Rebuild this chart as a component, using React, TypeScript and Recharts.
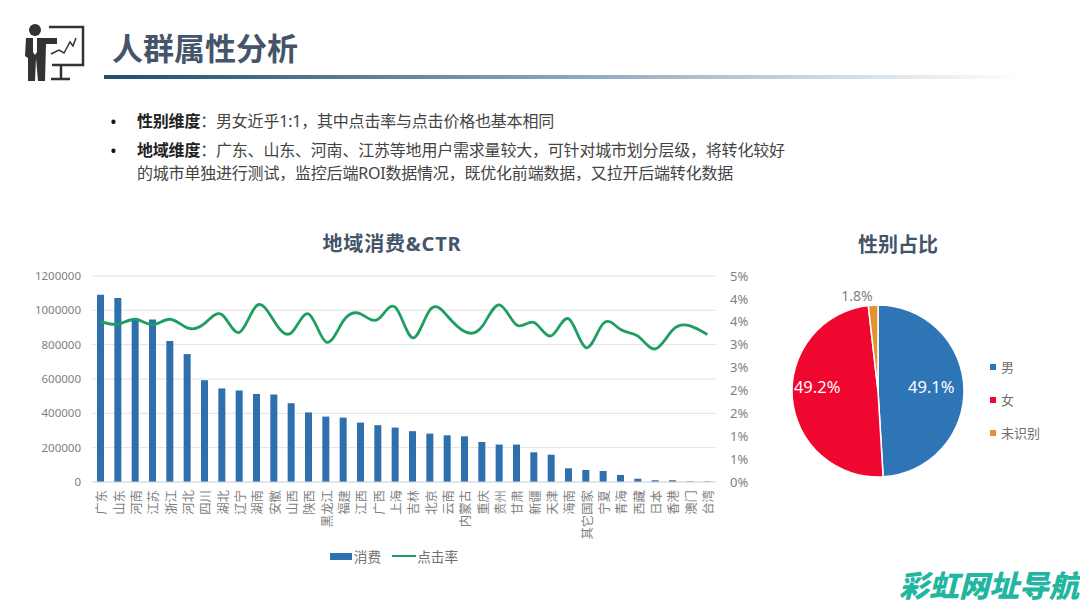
import React from 'react';
import { Bar, CartesianGrid, Cell, ComposedChart, Legend, Line, Pie, PieChart, XAxis, YAxis } from 'recharts';

const regions = ['广东', '山东', '河南', '江苏', '浙江', '河北', '四川', '湖北', '辽宁', '湖南', '安徽', '山西', '陕西', '黑龙江', '福建', '江西', '广西', '上海', '吉林', '北京', '云南', '内蒙古', '重庆', '贵州', '甘肃', '新疆', '天津', '海南', '其它国家', '宁夏', '青海', '西藏', '日本', '香港', '澳门', '台湾'];
const spend = [1091000, 1072000, 947000, 947000, 821000, 745000, 593000, 545000, 533000, 513000, 510000, 459000, 405000, 381000, 375000, 346000, 331000, 317000, 296000, 282000, 272000, 266000, 233000, 218000, 218000, 173000, 159000, 80000, 70000, 64000, 41000, 19000, 10000, 10000, 3000, 3000];
const ctr = [3.9, 3.83, 3.95, 3.82, 3.95, 3.74, 3.85, 4.06, 3.63, 4.28, 3.91, 3.62, 4.08, 3.4, 3.91, 4.08, 3.95, 4.24, 3.5, 4.18, 4.03, 3.65, 3.77, 4.3, 3.81, 3.87, 3.55, 3.96, 3.26, 3.85, 3.7, 3.54, 3.23, 3.69, 3.79, 3.58];
const spendTicks = [0, 200000, 400000, 600000, 800000, 1000000, 1200000];
const ctrTicks = [0, 0.556, 1.111, 1.667, 2.222, 2.778, 3.333, 3.889, 4.444, 5];

const genders = ['男', '女', '未识别'];
const genderShare = [49.1, 49.2, 1.8];
const genderColors = ['#2e75b6', '#f0072f', '#e5912c'];

const FONT = '"Noto Sans", "Noto Sans CJK SC", sans-serif';
const TITLE = '#44546a';
const AXIS = '#7f7f7f';

const regionRows = regions.map((name, i) => ({ name, spend: spend[i], ctr: ctr[i] }));
const genderRows = genders.map((name, i) => ({ name, value: genderShare[i] }));

const RegionTick = ({ x, y, payload }: any) => (
  <text
    transform={`translate(${x + 5.5},${y}) rotate(-90)`}
    textAnchor="end"
    fontSize={12.4}
    fontFamily={FONT}
    fill={AXIS}
  >
    {payload.value}
  </text>
);

const RegionLegend = ({ payload }: any) => (
  <div style={{ display: 'flex', justifyContent: 'center', alignItems: 'center', fontFamily: FONT, fontSize: 13.7, color: '#6f6f6f' }}>
    {(payload || []).map((item: any) => (
      <span key={item.value} style={{ display: 'flex', alignItems: 'center', marginRight: 11 }}>
        {item.type === 'rect' ? (
          <span style={{ width: 22, height: 7, background: item.color, marginRight: 2 }} />
        ) : (
          <span style={{ width: 24, height: 2.5, background: item.color, marginRight: 1 }} />
        )}
        {item.value}
      </span>
    ))}
  </div>
);

const GenderLegend = ({ payload }: any) => (
  <div style={{ fontFamily: FONT, fontSize: 13, color: '#6f6f6f' }}>
    {(payload || []).map((item: any) => (
      <div key={item.value} style={{ display: 'flex', alignItems: 'center', height: 33 }}>
        <span style={{ width: 6, height: 6, background: item.color, marginRight: 5 }} />
        {item.value}
      </div>
    ))}
  </div>
);

const RADIAN = Math.PI / 180;
const renderShare = ({ cx, cy, midAngle, outerRadius, value }: any) => {
  const outside = value < 5;
  const r = outside ? outerRadius + 10 : outerRadius * (midAngle > 0 ? 0.62 : 0.71);
  const x = cx + r * Math.cos(midAngle * RADIAN);
  const y = outside ? cy - r : cy - 5;
  return (
    <text
      x={x}
      y={y}
      textAnchor={outside ? 'end' : 'middle'}
      dominantBaseline="central"
      fontSize={outside ? 14 : 16.5}
      fontFamily={FONT}
      fill={outside ? '#7f7f7f' : '#ffffff'}
    >
      {value.toFixed(1)}%
    </text>
  );
};

const PresenterIcon = () => (
  <svg width={90} height={90} style={{ position: 'absolute', left: 2, top: 0 }}>
    <circle cx={33} cy={30} r={6} fill="#333" />
    <path d="M24 38 L55 38 L55 44 L44 44 L43 81 L36 81 L34 58 L33 81 L26 81 L26 58 L23 56 Z" fill="#333" />
    <path d="M31 38 L35 38 L35 52 L33 55 L31 52 Z" fill="#fff" />
    <path d="M47 27 L81 27 L81 65 L50 65 M59 65 L59 78 M49 79 L68 79" fill="none" stroke="#333" strokeWidth={2.5} />
    <path d="M49 54 L57 50 L62 53 L68 42 L71 46 L74 38" fill="none" stroke="#333" strokeWidth={1.5} />
  </svg>
);

const App = () => (
  <div style={{ position: 'absolute', left: 0, top: 0, width: 1080, height: 608, background: '#fff', overflow: 'hidden', fontFamily: FONT }}>
    <PresenterIcon />
    <div style={{ position: 'absolute', left: 112, top: 26, fontSize: 31, lineHeight: '44px', fontWeight: 700, color: TITLE }}>人群属性分析</div>
    <div style={{ position: 'absolute', left: 104, top: 75, width: 920, height: 4, background: 'linear-gradient(90deg, #1f4e6e 0%, #7f9cb5 45%, #ffffff 100%)' }} />

    <div style={{ position: 'absolute', left: 110, top: 109, fontSize: 18, lineHeight: '24px', color: '#111' }}>•</div>
    <div style={{ position: 'absolute', left: 137, top: 110, fontSize: 16, lineHeight: '23px', color: '#444', letterSpacing: -0.2, whiteSpace: 'nowrap' }}>
      <b style={{ color: '#222' }}>性别维度</b>：男女近乎1:1，其中点击率与点击价格也基本相同
    </div>
    <div style={{ position: 'absolute', left: 110, top: 138, fontSize: 18, lineHeight: '24px', color: '#111' }}>•</div>
    <div style={{ position: 'absolute', left: 137, top: 139, fontSize: 16, lineHeight: '23px', color: '#444', letterSpacing: -0.2, whiteSpace: 'nowrap' }}>
      <b style={{ color: '#222' }}>地域维度</b>：广东、山东、河南、江苏等地用户需求量较大，可针对城市划分层级，将转化较好
      <br />
      的城市单独进行测试，监控后端ROI数据情况，既优化前端数据，又拉开后端转化数据
    </div>

    <div style={{ position: 'absolute', left: 292, width: 200, top: 230, textAlign: 'center', fontSize: 20, lineHeight: '28px', fontWeight: 700, color: TITLE, letterSpacing: 0.8 }}>地域消费&amp;CTR</div>
    <div style={{ position: 'absolute', left: 798, width: 200, top: 231, textAlign: 'center', fontSize: 20, lineHeight: '28px', fontWeight: 700, color: TITLE }}>性别占比</div>

    <div style={{ position: 'absolute', left: 20, top: 265 }}>
      <ComposedChart width={740} height={310} data={regionRows} margin={{ top: 11, right: 0, bottom: 0, left: 0 }}>
        <CartesianGrid vertical={false} stroke="#e2e2e2" yAxisId="spend" />
        <XAxis dataKey="name" interval={0} height={63} tick={<RegionTick />} tickLine={false} axisLine={{ stroke: '#d9d9d9' }} tickMargin={2} />
        <YAxis yAxisId="spend" width={72} domain={[0, 1200000]} ticks={spendTicks} interval={0} tickLine={false} axisLine={false} tick={{ fontSize: 11.5, fill: AXIS, fontFamily: FONT }} tickMargin={5} />
        <YAxis yAxisId="ctr" orientation="right" width={44} domain={[0, 5]} ticks={ctrTicks} interval={0} tickFormatter={(v: number) => `${Math.round(v)}%`} tickLine={false} axisLine={false} tick={{ fontSize: 13, fill: AXIS, fontFamily: FONT }} tickMargin={8} />
        <Bar yAxisId="spend" dataKey="spend" name="消费" fill="#2e6fad" barSize={7} legendType="rect" isAnimationActive={false} />
        <Line yAxisId="ctr" dataKey="ctr" name="点击率" type="natural" stroke="#1f9e62" strokeWidth={2.8} dot={false} legendType="line" isAnimationActive={false} />
        <Legend content={<RegionLegend />} height={30} wrapperStyle={{ left: 0, width: 759, top: 281 }} />
      </ComposedChart>
    </div>

    <div style={{ position: 'absolute', left: 770, top: 270 }}>
      <PieChart width={300} height={225}>
        <Pie data={genderRows} dataKey="value" nameKey="name" cx={103} cy={116} outerRadius={86} startAngle={90} endAngle={-270} stroke="#fff" strokeWidth={1.5} label={renderShare} labelLine={false} isAnimationActive={false}>
          {genderRows.map((row, i) => (
            <Cell key={row.name} fill={genderColors[i]} />
          ))}
        </Pie>
        <Legend content={<GenderLegend />} itemSorter={null} layout="vertical" wrapperStyle={{ left: 220, top: 80, width: 70 }} />
      </PieChart>
    </div>

    <div style={{ position: 'absolute', left: 899, top: 567, fontSize: 30, lineHeight: '38px', fontWeight: 900, fontStyle: 'italic', color: '#22b5a0', whiteSpace: 'nowrap' }}>彩虹网址导航</div>
  </div>
);

export default App;
